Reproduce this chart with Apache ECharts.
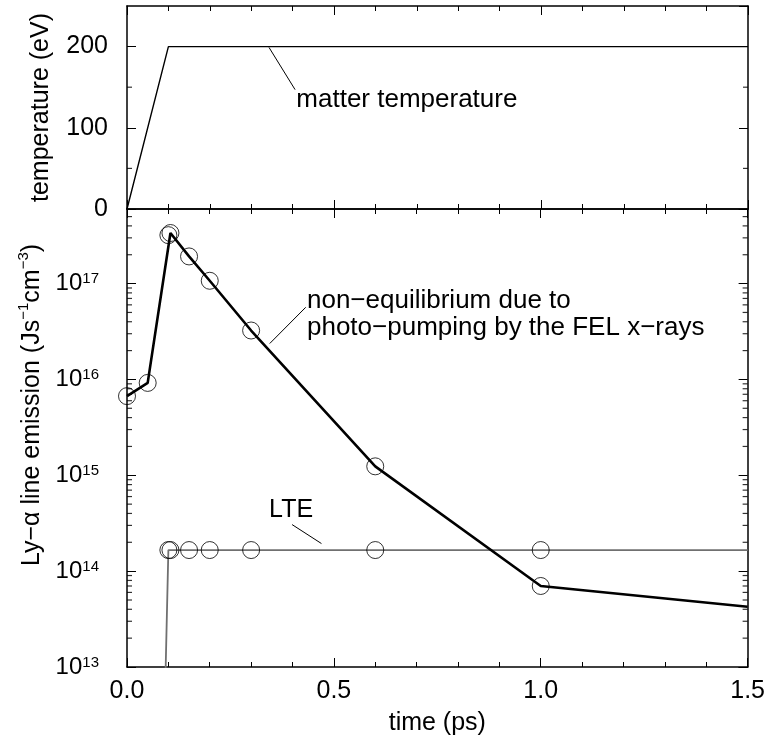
<!DOCTYPE html>
<html><head><meta charset="utf-8">
<script src="https://cdn.jsdelivr.net/npm/echarts@6/dist/echarts.min.js"></script>
<style>html,body{margin:0;padding:0;background:#fff}#c{width:768px;height:743px}</style>
</head><body><div id="c"></div>
<script>
// ---- data ----
const tempTime  = [0, 0.1, 1.5];
const tempValue = [0, 200, 200];

const neqTime  = [0, 0.05, 0.105, 0.15, 0.2, 0.3, 0.6, 1.0, 1.5];
const neqValue = [6.7e15, 9.2e15, 3.37e17, 1.92e17, 1.07e17, 3.24e16, 1.24e15, 7.0e13, 4.25e13];
const neqCircleTime  = [0, 0.05, 0.1, 0.105, 0.15, 0.2, 0.3, 0.6, 1.0];
const neqCircleValue = [6.7e15, 9.2e15, 3.2e17, 3.37e17, 1.92e17, 1.07e17, 3.24e16, 1.24e15, 7.0e13];

const lteTime  = [0.09, 0.1, 1.5];
const lteValue = [2.2e12, 1.66e14, 1.66e14];
const lteCircleTime  = [0.1, 0.105, 0.15, 0.2, 0.3, 0.6, 1.0];
const lteCircleValue = [1.66e14, 1.66e14, 1.66e14, 1.66e14, 1.66e14, 1.66e14, 1.66e14];

// tick helpers
const tempMinorTicks = [50, 150];
const logDecades = [13, 14, 15, 16, 17];
const logMinorMultipliers = [2, 3, 4, 5, 6, 7, 8, 9];

// annotations
const tempLabel = {text: 'matter temperature', at: [0.409, 135], leader: [[0.343, 199], [0.406, 147]]};
const neqLabel  = {text: 'non\u2212equilibrium due to\nphoto\u2212pumping by the FEL x\u2212rays', at: [0.435, 4.8e16], leader: [[0.432, 5.66e16], [0.345, 2.37e16]]};
const lteLabel  = {text: 'LTE', at: [0.3966, 4.31e14], leader: [[0.399, 3.06e14], [0.470, 1.94e14]]};

// ---- build ----
const zip = (a, b) => a.map((v, i) => [v, b[i]]);
const FONT = 'Liberation Sans, Arial, Helvetica, sans-serif';
const FS = 25;
const logMax = 6e17, logMin = 1e13;
const logMinor = [];
logDecades.forEach(d => logMinorMultipliers.forEach(m => { const v = m * Math.pow(10, d); if (v < logMax) logMinor.push(v); }));

const tickLine = {color: '#000', width: 1};
function xAx(grid, pos, labels, name) {
  return {
    type: 'value', gridIndex: grid, position: pos, min: 0, max: 1.5, interval: 0.5,
    axisLine: {show: true, onZero: false, lineStyle: {color: '#000', width: 1.5}},
    axisTick: {show: true, inside: true, length: 9, lineStyle: tickLine},
    minorTick: {show: true, splitNumber: 5, length: 5, lineStyle: tickLine},
    splitLine: {show: false},
    axisLabel: {show: labels, margin: 12, fontSize: FS, color: '#000', fontFamily: FONT,
      formatter: v => v.toFixed(1)},
    name: name || '', nameLocation: 'middle', nameGap: 44,
    nameTextStyle: {fontSize: FS, color: '#000', fontFamily: FONT}
  };
}
function yTemp(pos, labels) {
  return {
    type: 'value', gridIndex: 0, position: pos, min: 0, max: 250, interval: 100,
    axisLine: {show: true, onZero: false, lineStyle: {color: '#000', width: 1.5}},
    axisTick: {show: true, inside: true, length: 9, lineStyle: tickLine},
    splitLine: {show: false},
    axisLabel: {show: labels, margin: 19, fontSize: FS, color: '#000', fontFamily: FONT, showMaxLabel: false},
    name: labels ? 'temperature (eV)' : '', nameLocation: 'middle', nameGap: 73,
    nameTextStyle: {fontSize: FS, color: '#000', fontFamily: FONT}
  };
}
function yLog(pos, labels) {
  return {
    type: 'log', logBase: 10, gridIndex: 1, position: pos, min: logMin, max: logMax,
    axisLine: {show: true, onZero: false, lineStyle: {color: '#000', width: 1.5}},
    axisTick: {show: true, inside: true, length: 9, lineStyle: tickLine},
    splitLine: {show: false},
    axisLabel: {show: labels, margin: 28, showMaxLabel: false, fontFamily: FONT,
      formatter: v => '{b|10}{s|' + Math.round(Math.log10(v)) + '}',
      rich: {
        b: {fontSize: 24, color: '#000', fontFamily: FONT, verticalAlign: 'bottom', lineHeight: 24},
        s: {fontSize: 15, color: '#000', fontFamily: FONT, verticalAlign: 'top', lineHeight: 3}
      }},
    name: labels ? '{n|Ly\u2212\u03b1 line emission (Js}{s|\u22121}{n|cm}{s|\u22123}{n|)}' : '',
    nameLocation: 'middle', nameGap: 73,
    nameTextStyle: {fontFamily: FONT, padding: [0, 0, 0, 66],
      rich: {
        n: {fontSize: FS, color: '#000', fontFamily: FONT, verticalAlign: 'bottom', lineHeight: 28},
        s: {fontSize: 15, color: '#000', fontFamily: FONT, verticalAlign: 'top', lineHeight: 10}
      }}
  };
}

function tickMarks(xIdx, yIdx, xAt, vals, side) {
  return {
    type: 'scatter', xAxisIndex: xIdx, yAxisIndex: yIdx, silent: true, clip: false,
    symbol: 'rect', symbolSize: [5, 1.2], symbolOffset: [side * 2.5, 0],
    itemStyle: {color: '#000'}, z: 5,
    data: vals.map(v => [xAt, v])
  };
}
function leader(pts) {
  return {symbol: 'none', silent: true, label: {show: false},
    lineStyle: {color: '#000', width: 1, type: 'solid'},
    data: [[{coord: pts[0]}, {coord: pts[1]}]]};
}
function textMark(lab, align, fs, lineH) {
  return {symbol: 'rect', symbolSize: 1, silent: true, itemStyle: {color: 'rgba(0,0,0,0)'},
    label: {show: true, position: 'inside', align: align, verticalAlign: 'middle',
      formatter: lab.text, fontSize: fs, lineHeight: lineH || 27, color: '#000', fontFamily: FONT},
    data: [{coord: lab.at}]};
}
const circle = {type: 'scatter', symbol: 'circle', symbolSize: 17,
  itemStyle: {color: 'rgba(0,0,0,0)', borderColor: '#000', borderWidth: 1}, z: 4};

const option = {
  animation: false,
  backgroundColor: '#fff',
  grid: [
    {left: 127, right: 20, top: 6, height: 203},
    {left: 127, right: 20, top: 209, height: 458}
  ],
  xAxis: [xAx(0, 'bottom', false), xAx(0, 'top', false), xAx(1, 'bottom', true, 'time (ps)'), xAx(1, 'top', false)],
  yAxis: [yTemp('left', true), yTemp('right', false), yLog('left', true), yLog('right', false)],
  series: [
    {type: 'line', xAxisIndex: 0, yAxisIndex: 0, data: zip(tempTime, tempValue), showSymbol: false,
      lineStyle: {color: '#000', width: 1.4}, z: 3,
      markLine: leader(tempLabel.leader), markPoint: textMark(tempLabel, 'left', 26)},
    tickMarks(0, 0, 0, tempMinorTicks, 1),
    tickMarks(0, 1, 1.5, tempMinorTicks, -1),
    {type: 'line', xAxisIndex: 2, yAxisIndex: 2, data: zip(lteTime, lteValue), showSymbol: false,
      lineStyle: {color: '#707070', width: 1.8}, z: 2,
      markLine: leader(lteLabel.leader), markPoint: textMark(lteLabel, 'center', 25)},
    {type: 'line', xAxisIndex: 2, yAxisIndex: 2, data: zip(neqTime, neqValue), showSymbol: false,
      lineStyle: {color: '#000', width: 2.6}, z: 3,
      markLine: leader(neqLabel.leader), markPoint: textMark(neqLabel, 'left', 26, 27)},
    Object.assign({xAxisIndex: 2, yAxisIndex: 2, data: zip(neqCircleTime, neqCircleValue)}, circle),
    Object.assign({xAxisIndex: 2, yAxisIndex: 2, data: zip(lteCircleTime, lteCircleValue)}, circle),
    tickMarks(2, 2, 0, logMinor, 1),
    tickMarks(2, 3, 1.5, logMinor, -1)
  ]
};
echarts.init(document.getElementById('c'), null, {renderer: 'canvas'}).setOption(option);
</script></body></html>
